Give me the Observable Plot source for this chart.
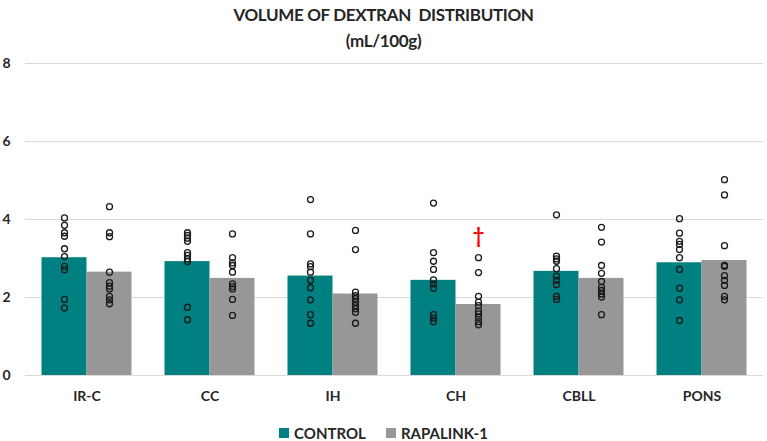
<!DOCTYPE html>
<html>
<head>
<meta charset="utf-8">
<script src="https://cdn.jsdelivr.net/npm/d3@7"></script>
<script src="https://cdn.jsdelivr.net/npm/@observablehq/plot@0.6"></script>
<style>
  html, body { margin: 0; padding: 0; background: #fff; }
  #wrap { position: relative; width: 767px; height: 441px; font-family: Lato, "Open Sans", sans-serif; color: #262626; }
  #title { position: absolute; top: 2px; left: 0; width: 767px; text-align: center; font-weight: bold; font-size: 17px; letter-spacing: -0.35px; line-height: 26px; }
  #chart { position: absolute; top: 50px; left: 0; }
  #legend { position: absolute; top: 424px; left: 0; width: 767px; display: flex; justify-content: center; align-items: center; font-weight: bold; font-size: 15px; }
  .sw { display: inline-block; width: 10px; height: 10px; margin-right: 5px; }
  .item { display: flex; align-items: center; margin: 0 10px; }
</style>
</head>
<body>
<div id="wrap">
  <div id="title">VOLUME OF DEXTRAN&nbsp; DISTRIBUTION<br>(mL/100g)</div>
  <div id="chart"></div>
  <div id="legend"></div>
</div>
<script>
const categories = ["IR-C", "CC", "IH", "CH", "CBLL", "PONS"];
const seriesNames = ["CONTROL", "RAPALINK-1"];
const seriesColors = ["#008080", "#979797"];
const controlMeans = [3.02, 2.92, 2.55, 2.44, 2.67, 2.89];
const rapalinkMeans = [2.65, 2.49, 2.09, 1.82, 2.49, 2.95];
const controlPoints = [
  [4.04, 3.85, 3.66, 3.57, 3.25, 3.05, 2.80, 2.71, 1.95, 1.73],
  [3.66, 3.59, 3.52, 3.44, 3.15, 3.08, 2.99, 2.92, 1.75, 1.43],
  [4.51, 3.63, 2.86, 2.79, 2.65, 2.44, 2.25, 1.94, 1.56, 1.34],
  [4.42, 3.15, 2.93, 2.72, 2.45, 2.35, 2.24, 1.56, 1.47, 1.38],
  [4.12, 3.06, 2.99, 2.93, 2.74, 2.55, 2.44, 2.33, 2.03, 1.95],
  [4.02, 3.65, 3.44, 3.36, 3.23, 3.02, 2.72, 2.24, 1.94, 1.41]
];
const rapalinkPoints = [
  [4.33, 3.66, 3.56, 2.65, 2.38, 2.29, 2.22, 2.03, 1.94, 1.84],
  [3.63, 3.02, 2.89, 2.82, 2.65, 2.35, 2.28, 2.22, 1.95, 1.54],
  [3.72, 3.23, 2.14, 2.05, 1.97, 1.88, 1.79, 1.71, 1.62, 1.34],
  [3.02, 2.64, 2.03, 1.88, 1.79, 1.65, 1.58, 1.49, 1.38, 1.30],
  [3.80, 3.42, 2.82, 2.62, 2.41, 2.26, 2.18, 2.09, 2.01, 1.56],
  [5.02, 4.63, 3.33, 2.82, 2.80, 2.56, 2.44, 2.31, 2.03, 1.94]
];
const yTicks = [0, 2, 4, 6, 8];
const markerCategory = "CH";
const markerSeries = "RAPALINK-1";
const markerValue = 3.55;
const markerSymbol = "\u2020";

const bars = [];
const points = [];
categories.forEach((c, i) => {
  bars.push({cat: c, series: seriesNames[0], value: controlMeans[i]});
  bars.push({cat: c, series: seriesNames[1], value: rapalinkMeans[i]});
  controlPoints[i].forEach(v => points.push({cat: c, series: seriesNames[0], value: v}));
  rapalinkPoints[i].forEach(v => points.push({cat: c, series: seriesNames[1], value: v}));
});
const markers = [{cat: markerCategory, series: markerSeries, value: markerValue, text: markerSymbol}];

const plot = Plot.plot({
  width: 767,
  height: 365,
  marginTop: 13,
  marginBottom: 40,
  marginLeft: 24.5,
  marginRight: 4.5,
  style: {fontFamily: "Lato, 'Open Sans', sans-serif", fontSize: "14px", fontWeight: "bold", color: "#262626", background: "white", overflow: "visible"},
  fx: {domain: categories, padding: 0, axis: "bottom", label: null, tickSize: 0, tickPadding: 16},
  x: {domain: seriesNames, axis: null, paddingInner: 0, paddingOuter: 0.362},
  y: {domain: [0, 8], ticks: yTicks, tickSize: 0, tickPadding: 15, label: null},
  color: {domain: seriesNames, range: seriesColors},
  marks: [
    Plot.ruleY(yTicks, {stroke: "#d9d9d9", strokeWidth: 1}),
    Plot.barY(bars, {fx: "cat", x: "series", y: "value", fill: "series"}),
    Plot.dot(points, {fx: "cat", x: "series", y: "value", r: 3, stroke: "#1a1a1a", strokeWidth: 1.3, fill: "none"}),
    Plot.text(markers, {fx: "cat", x: "series", y: "value", text: "text", fill: "#ff0000", fontSize: 20, fontWeight: "bold"})
  ]
});
document.getElementById("chart").appendChild(plot);

const legend = document.getElementById("legend");
seriesNames.forEach((s, i) => {
  const item = document.createElement("div");
  item.className = "item";
  const sw = document.createElement("span");
  sw.className = "sw";
  sw.style.background = seriesColors[i];
  item.appendChild(sw);
  item.appendChild(document.createTextNode(s));
  legend.appendChild(item);
});
</script>
</body>
</html>
